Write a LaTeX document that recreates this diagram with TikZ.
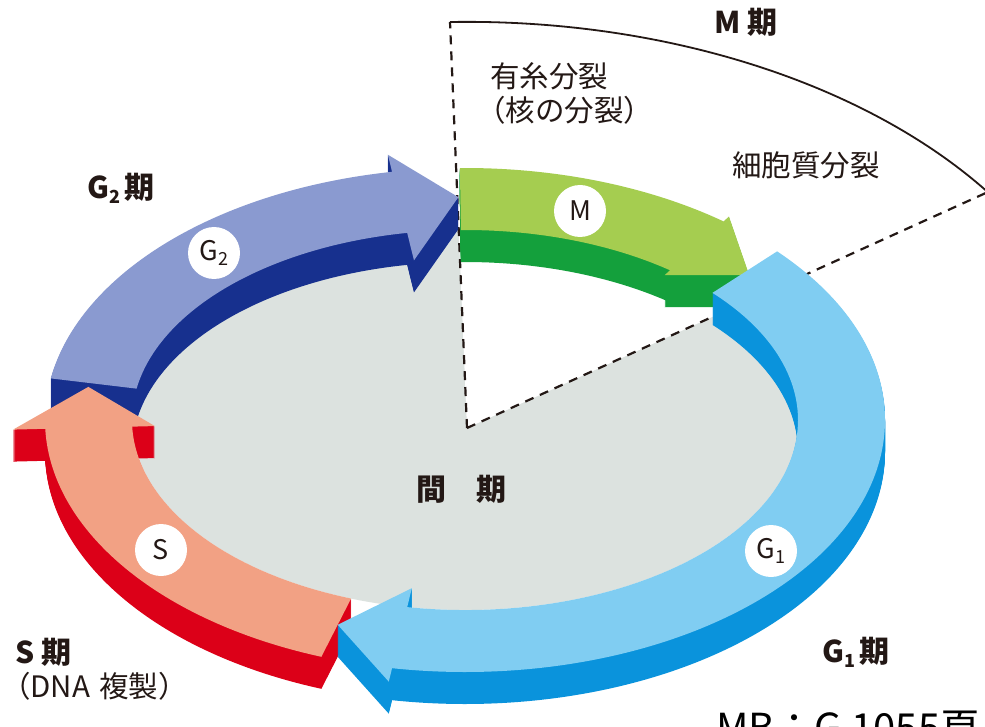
\documentclass[tikz,border=0pt]{standalone}
\usepackage{fontspec}
\newfontfamily\jp{Noto Sans CJK JP}
\definecolor{txt}{HTML}{231815}
\definecolor{greyin}{HTML}{DCE2DF}
\definecolor{gtwotop}{HTML}{8A9AD0}
\definecolor{gtwoside}{HTML}{17308E}
\definecolor{mtop}{HTML}{A5CD50}
\definecolor{mside}{HTML}{14A03C}
\definecolor{gonetop}{HTML}{80CDF2}
\definecolor{goneside}{HTML}{0A93DC}
\definecolor{stop}{HTML}{F2A184}
\definecolor{sside}{HTML}{DC0018}
% point on the ring: name, angle, s (0 inner edge, 1 outer edge)
\newcommand{\rpc}[3]{\coordinate (#1) at ({465+(333+87*(#3))*cos(#2)},{-420+(190+62*(#3))*sin(#2)});}
% arrow outline: prefix, tail angle, head angle, shift down
\newcommand{\arrowpath}[4]{([yshift=-#4pt]#1a) arc[start angle=#2,end angle=#3,x radius=420pt,y radius=252pt] -- ([yshift=-#4pt]#1b) -- ([yshift=-#4pt]#1t) -- ([yshift=-#4pt]#1c) -- ([yshift=-#4pt]#1d) arc[start angle=#3,end angle=#2,x radius=333pt,y radius=190pt] -- cycle}
\begin{document}
\begin{tikzpicture}[x=1pt,y=1pt,line join=round,
  dashline/.style={draw=txt,line width=2.2pt,dash pattern=on 9pt off 7pt},
  mline/.style={draw=txt,line width=1.8pt},
  lab/.style={font=\jp\fontsize{29.5}{32}\selectfont,text=txt,inner sep=0pt},
  blab/.style={font=\jp\bfseries\fontsize{30}{32}\selectfont,text=txt,inner sep=0pt},
  phase/.style={circle,fill=white,minimum size=52pt,inner sep=0pt,font=\jp\fontsize{27}{27}\selectfont,text=txt}]
\useasboundingbox (0,0) rectangle (985,-727);
\clip (0,0) rectangle (985,-727);
\fill[white] (0,0) rectangle (985,-727);
% interior of the ring
\fill[greyin] (465,-420) ellipse [x radius=333pt, y radius=190pt];
\coordinate (O) at (467,-428);
\coordinate (Ptop) at (450,-22);
\coordinate (Pright) at (988,-192);
\fill[white] (O) -- (Ptop) -- (Pright) -- cycle;
\draw[dashline] (O) -- (Ptop);
\draw[dashline] (O) -- (Pright);
\draw[mline] (Ptop) arc[start angle=91.5, end angle=35.5, x radius=640pt, y radius=406pt];
% arrow geometry: tail a, outer barb b, tip t, inner barb c, inner head base d
\rpc{G2a}{170.5}{1}\rpc{G2b}{100}{1.28}\rpc{G2t}{91}{0.53}\rpc{G2c}{100}{-0.45}\rpc{G2d}{100}{0}
\rpc{Sa}{250}{1}\rpc{Sb}{182}{1.37}\rpc{St}{171.5}{0.55}\rpc{Sc}{182}{-0.26}\rpc{Sd}{182}{0}
\rpc{Ma}{90.7}{1}\rpc{Mb}{52}{1.1}\rpc{Mt}{41}{0.5}\rpc{Mc}{52}{-0.1}\rpc{Md}{52}{0}
\rpc{G1a}{42}{1}\rpc{G1b}{-100}{1.22}\rpc{G1t}{-110}{0.45}\rpc{G1c}{-100}{-0.31}\rpc{G1d}{-100}{0}
% G2
\foreach \d in {1,...,32} {\fill[gtwoside] \arrowpath{G2}{170.5}{100}{\d};}
\fill[gtwotop] \arrowpath{G2}{170.5}{100}{0};
% S
\foreach \d in {1,...,32} {\fill[sside] \arrowpath{S}{250}{182}{\d};}
\fill[stop] \arrowpath{S}{250}{182}{0};
% M
\foreach \d in {1,...,32} {\fill[mside] \arrowpath{M}{90.7}{52}{\d};}
\fill[mtop] \arrowpath{M}{90.7}{52}{0};
% G1
\foreach \d in {1,...,32} {\fill[goneside] \arrowpath{G1}{42}{-100}{\d};}
\fill[gonetop] \arrowpath{G1}{42}{-100}{0};
% phase circles
\node[phase] (cM) at (580,-211) {M};
\node[phase] (cG2) at (214,-253) {G\raisebox{-5pt}{\fontsize{18}{18}\selectfont 2}};
\node[phase] (cS) at (161,-550) {S};
\node[phase] (cG1) at (771,-551) {G\raisebox{-5pt}{\fontsize{18}{18}\selectfont 1}};
% labels
\node[blab] (lM) at (746,-22) {M 期};
\node[lab,anchor=west] (lmit) at (490,-76) {有糸分裂};
\node[lab,anchor=west] (lnuc) at (476,-110) {（核の分裂）};
\node[lab,anchor=west] (lcyt) at (732,-165) {細胞質分裂};
\node[blab] (lG2) at (121,-188) {G\raisebox{-5pt}{\fontsize{18}{18}\selectfont 2}\,期};
\node[blab] (lint) at (461,-489) {間　期};
\node[blab,anchor=west] (lS) at (15,-652) {S 期};
\node[lab,anchor=west] (lDNA) at (1,-686) {（DNA\hspace{9pt}複製）};
\node[blab] (lG1) at (856,-652) {G\raisebox{-5pt}{\fontsize{18}{18}\selectfont 1}\,期};
\node[anchor=base west,inner sep=0pt,font=\jp\fontsize{40}{40}\selectfont,text=black] (ref) at (716,-742) {MB：G 1055頁};
\end{tikzpicture}
\end{document}
